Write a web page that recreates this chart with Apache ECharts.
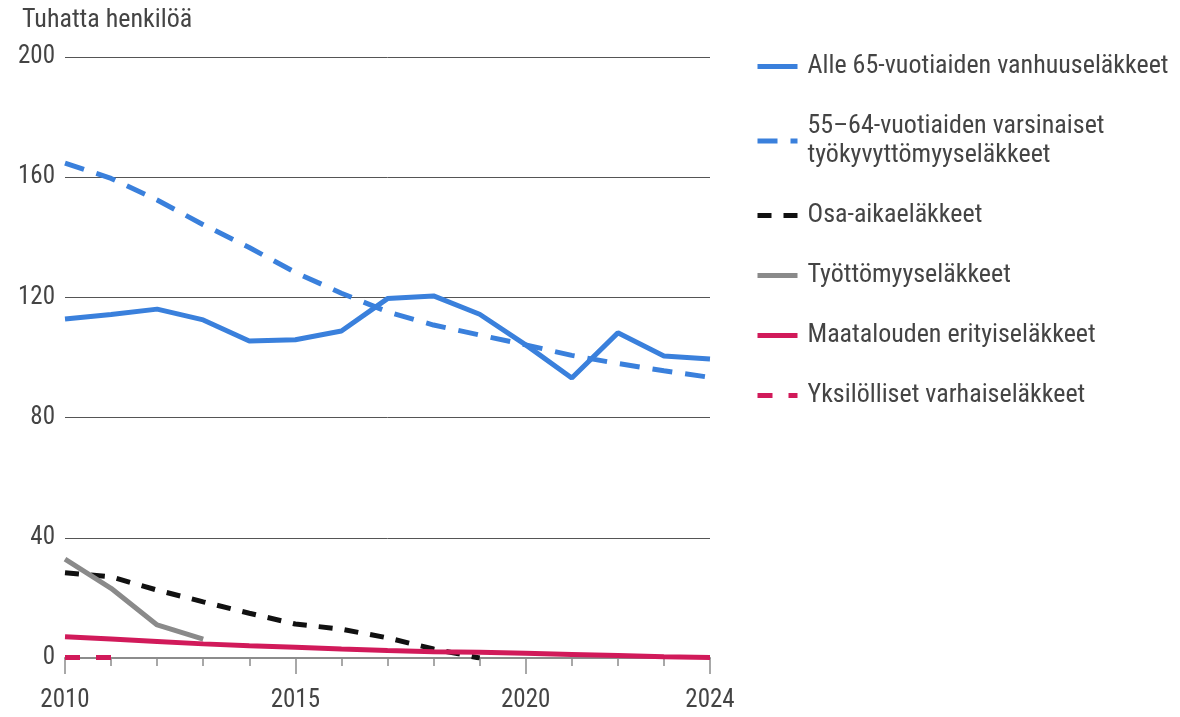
<!DOCTYPE html>
<html>
<head>
<meta charset="utf-8">
<script src="https://cdn.jsdelivr.net/npm/echarts@6/dist/echarts.min.js"></script>
<style>
  html, body { margin: 0; padding: 0; background: #fff; }
  #chart { width: 1180px; height: 717px; }
</style>
</head>
<body>
<div id="chart"></div>
<script>
var years = ['2010', '2011', '2012', '2013', '2014', '2015', '2016', '2017',
             '2018', '2019', '2020', '2021', '2022', '2023', '2024'];
var labelYears = ['2010', '2015', '2020', '2024'];

// tuhatta henkilöä
var vanhuus = [112.8, 114.3, 116.1, 112.5, 105.5, 105.9, 108.8, 119.6, 120.5, 114.4, 104.2, 93.2, 108.2, 100.5, 99.5];
var tyokyvyttomyys = [164.7, 159.6, 152.4, 144.2, 136.6, 128.3, 121.4, 115.2, 110.8, 107.5, 104.2, 100.7, 98.0, 95.6, 93.4];
var osaaika = [28.4, 27.0, 22.6, 18.7, 14.9, 11.3, 9.6, 6.7, 3.0, 0.0, null, null, null, null, null];
var tyottomyys = [32.9, 23.2, 11.0, 6.3, null, null, null, null, null, null, null, null, null, null, null];
var maatalous = [7.1, 6.3, 5.5, 4.7, 4.1, 3.6, 3.0, 2.5, 2.1, 1.9, 1.6, 1.2, 0.8, 0.4, 0.2];
var yksilolliset = [0.2, 0.2, null, null, null, null, null, null, null, null, null, null, null, null, null];

var names = [
    'Alle 65-vuotiaiden vanhuuseläkkeet',
    '55–64-vuotiaiden varsinaiset\ntyökyvyttömyyseläkkeet',
    'Osa-aikaeläkkeet',
    'Työttömyyseläkkeet',
    'Maatalouden erityiseläkkeet',
    'Yksilölliset varhaiseläkkeet'
];

var fontFam = '"Roboto Condensed", "Liberation Sans Narrow", "DejaVu Sans Condensed", "Arial Narrow", sans-serif';
var blue = '#3a80dc';
var crimson = '#d11a5a';

function line(name, data, color, type, width) {
    return {
        name: name,
        type: 'line',
        data: data,
        symbol: 'none',
        showSymbol: false,
        connectNulls: false,
        lineStyle: { color: color, width: width || 5, type: type || 'solid', cap: 'butt' },
        itemStyle: { color: color },
        emphasis: { disabled: true },
        z: 3
    };
}

var chart = echarts.init(document.getElementById('chart'));
var option = {
    animation: false,
    textStyle: { fontFamily: fontFam },
    title: {
        text: 'Tuhatta henkilöä',
        left: 17, top: 2,
        textStyle: { fontFamily: fontFam, fontSize: 26, fontWeight: 'normal', color: '#444' }
    },
    grid: { left: 65, right: 470, top: 57, bottom: 59, containLabel: false },
    legend: {
        orient: 'vertical',
        left: 755, top: 52,
        padding: 0,
        itemWidth: 40, itemHeight: 5,
        itemGap: 31,
        data: names,
        lineStyle: { width: 5 },
        itemStyle: { opacity: 0 },
        textStyle: { fontFamily: fontFam, fontSize: 26, color: '#444', lineHeight: 29, padding: [0, 0, 0, 5] },
        selectedMode: false
    },
    xAxis: [{
        type: 'category',
        data: years,
        boundaryGap: false,
        axisLine: { lineStyle: { color: '#8c8c8c', width: 2 } },
        axisTick: { show: true, length: 8, interval: 0, lineStyle: { color: '#8c8c8c', width: 1.5 } },
        axisLabel: { show: false }
    }, {
        type: 'category',
        data: years,
        position: 'bottom',
        boundaryGap: false,
        axisLine: { show: false },
        axisTick: {
            show: true, length: 16,
            interval: function (i, v) { return labelYears.indexOf(v) >= 0; },
            lineStyle: { color: '#8c8c8c', width: 1.5 }
        },
        axisLabel: {
            interval: function (i, v) { return labelYears.indexOf(v) >= 0; },
            margin: 30,
            fontFamily: fontFam, fontSize: 25, color: '#444'
        }
    }],
    yAxis: {
        type: 'value',
        min: 0, max: 200, interval: 40,
        axisLine: { show: false },
        axisTick: { show: false },
        axisLabel: { fontFamily: fontFam, fontSize: 25, color: '#444', margin: 10 },
        splitLine: { lineStyle: { color: '#555', width: 1 } }
    },
    series: [
        line(names[0], vanhuus, blue, 'solid'),
        line(names[1], tyokyvyttomyys, blue, [20, 13]),
        line(names[2], osaaika, '#111', [14, 12]),
        line(names[3], tyottomyys, '#8a8a8a', 'solid'),
        line(names[4], maatalous, crimson, 'solid'),
        line(names[5], yksilolliset, crimson, [15, 16])
    ]
};
chart.setOption(option);
</script>
</body>
</html>
